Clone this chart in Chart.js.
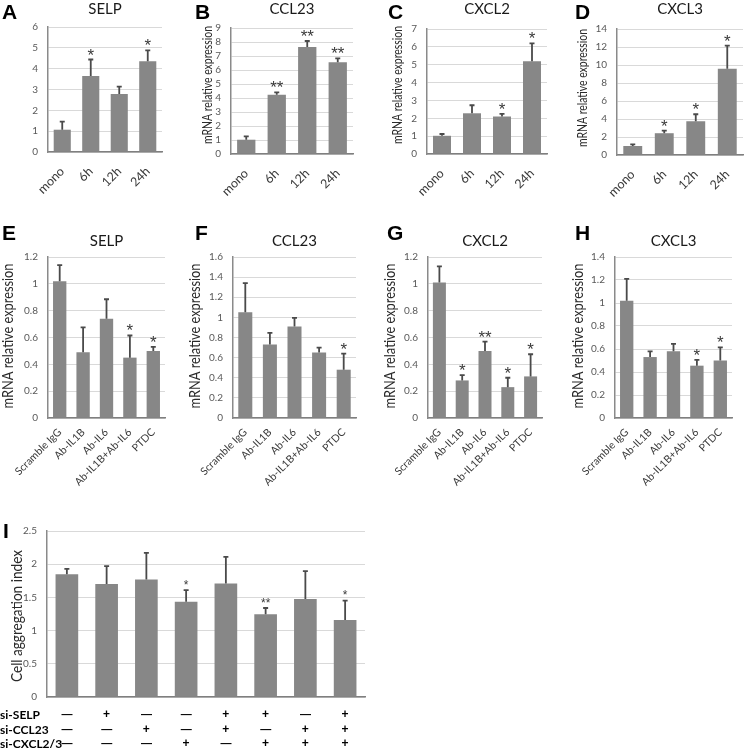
<!DOCTYPE html>
<html><head><meta charset="utf-8">
<script src="https://cdn.jsdelivr.net/npm/chart.js@4.4.0/dist/chart.umd.min.js"></script>
<style>
html,body{margin:0;padding:0;background:#fff;}
#wrap{position:relative;width:750px;height:751px;overflow:hidden;background:#fff;}
canvas{position:absolute;}
.lt{position:absolute;font-family:'Liberation Sans',Arial,sans-serif;font-weight:bold;font-size:21px;line-height:21px;color:#000;}
</style></head><body>
<div id="wrap">
<canvas id="cA" width="172" height="205" style="left:0px;top:0px"></canvas>
<canvas id="cB" width="163" height="205" style="left:199px;top:0px"></canvas>
<canvas id="cC" width="168" height="205" style="left:389px;top:0px"></canvas>
<canvas id="cD" width="176" height="205" style="left:574px;top:0px"></canvas>
<canvas id="cE" width="175" height="285" style="left:0px;top:215px"></canvas>
<canvas id="cF" width="179" height="285" style="left:187px;top:215px"></canvas>
<canvas id="cG" width="170" height="285" style="left:382px;top:215px"></canvas>
<canvas id="cH" width="172" height="285" style="left:570px;top:215px"></canvas>
<canvas id="cI" width="375" height="236" style="left:0px;top:515px"></canvas>
<div class="lt" style="left:2px;top:1px">A</div>
<div class="lt" style="left:195px;top:1px">B</div>
<div class="lt" style="left:388px;top:1px">C</div>
<div class="lt" style="left:575px;top:1px">D</div>
<div class="lt" style="left:2px;top:222px">E</div>
<div class="lt" style="left:195px;top:222px">F</div>
<div class="lt" style="left:387px;top:222px">G</div>
<div class="lt" style="left:575px;top:222px">H</div>
<div class="lt" style="left:3px;top:520px">I</div>
</div>
<script>
// ---------- data ----------
const timeLabels = ['mono', '6h', '12h', '24h'];
const antibodyLabels = ['Scramble IgG', 'Ab-IL1B', 'Ab-IL6', 'Ab-IL1B+Ab-IL6', 'PTDC'];
const siLabels = ['ctrl', 'SELP', 'CCL23', 'CXCL2/3', 'SELP+CCL23', 'SELP+CXCL2/3', 'CCL23+CXCL2/3', 'all'];

// y-axis tick values per panel
const ticksA = [0, 1, 2, 3, 4, 5, 6];
const ticksB = [0, 1, 2, 3, 4, 5, 6, 7, 8, 9];
const ticksC = [0, 1, 2, 3, 4, 5, 6, 7];
const ticksD = [0, 2, 4, 6, 8, 10, 12, 14];
const ticksE = [0, 0.2, 0.4, 0.6, 0.8, 1, 1.2];
const ticksF = [0, 0.2, 0.4, 0.6, 0.8, 1, 1.2, 1.4, 1.6];
const ticksG = [0, 0.2, 0.4, 0.6, 0.8, 1, 1.2];
const ticksH = [0, 0.2, 0.4, 0.6, 0.8, 1, 1.2, 1.4];
const ticksI = [0, 0.5, 1, 1.5, 2, 2.5];

const selpTime = [1.07, 3.65, 2.79, 4.36];
const selpTimeErr = [0.39, 0.79, 0.35, 0.52];
const selpTimeSig = ['', '*', '', '*'];

const ccl23Time = [1.02, 4.24, 7.64, 6.55];
const ccl23TimeErr = [0.24, 0.16, 0.43, 0.28];
const ccl23TimeSig = ['', '**', '**', '**'];

const cxcl2Time = [1.02, 2.28, 2.10, 5.20];
const cxcl2TimeErr = [0.10, 0.45, 0.15, 1.00];
const cxcl2TimeSig = ['', '', '*', '*'];

const cxcl3Time = [1.00, 2.42, 3.75, 9.59];
const cxcl3TimeErr = [0.19, 0.29, 0.78, 2.57];
const cxcl3TimeSig = ['', '*', '*', '*'];

const selpAb = [1.02, 0.49, 0.74, 0.45, 0.50];
const selpAbErr = [0.12, 0.185, 0.145, 0.165, 0.03];
const selpAbSig = ['', '', '', '*', '*'];

const ccl23Ab = [1.05, 0.73, 0.91, 0.65, 0.48];
const ccl23AbErr = [0.29, 0.115, 0.085, 0.05, 0.16];
const ccl23AbSig = ['', '', '', '', '*'];

const cxcl2Ab = [1.01, 0.28, 0.50, 0.23, 0.31];
const cxcl2AbErr = [0.12, 0.04, 0.07, 0.07, 0.165];
const cxcl2AbSig = ['', '*', '**', '*', '*'];

const cxcl3Ab = [1.02, 0.53, 0.58, 0.455, 0.50];
const cxcl3AbErr = [0.19, 0.05, 0.065, 0.05, 0.115];
const cxcl3AbSig = ['', '', '', '*', '*'];

const aggIndex = [1.85, 1.70, 1.77, 1.435, 1.71, 1.245, 1.476, 1.16];
const aggIndexErr = [0.08, 0.27, 0.40, 0.175, 0.40, 0.095, 0.42, 0.29];
const aggIndexSig = ['', '', '', '*', '', '**', '', '*'];

const siSELP   = ['—', '+', '—', '—', '+', '+', '—', '+'];
const siCCL23  = ['—', '—', '+', '—', '+', '—', '+', '+'];
const siCXCL23 = ['—', '—', '—', '+', '—', '+', '+', '+'];
const siRowNames = ['si-SELP', 'si-CCL23', 'si-CXCL2/3'];
const siRows = [siSELP, siCCL23, siCXCL23];

// ---------- drawing ----------
const FONT = 'Lato, "Open Sans", sans-serif';
const STARFONT = '"Liberation Sans", Arial, sans-serif';

function fmt(v) { return String(Math.round(v * 100) / 100); }

const panelPlugin = {
  id: 'panel',
  afterDatasetsDraw(chart, args, o) {
    const ctx = chart.ctx;
    const ys = chart.scales.y;
    const meta = chart.getDatasetMeta(0);
    const vals = chart.data.datasets[0].data;
    const ca = chart.chartArea;
    ctx.save();
    // y tick labels from the tick array, placed by the y scale
    ctx.fillStyle = '#595959';
    ctx.font = '10px ' + FONT;
    ctx.textAlign = 'right';
    ctx.textBaseline = 'middle';
    o.yTicks.forEach(v => ctx.fillText(fmt(v), ca.left - 10, ys.getPixelForValue(v)));
    // error bars and significance marks
    meta.data.forEach((bar, i) => {
      const top = ys.getPixelForValue(vals[i] + o.errors[i]);
      ctx.strokeStyle = '#4a4a4a';
      ctx.lineWidth = 1.8;
      ctx.beginPath();
      ctx.moveTo(bar.x, bar.y);
      ctx.lineTo(bar.x, top);
      ctx.moveTo(bar.x - 2.5, top);
      ctx.lineTo(bar.x + 2.5, top);
      ctx.stroke();
      if (o.sig[i]) {
        ctx.fillStyle = '#3a3a3a';
        ctx.font = o.starFont;
        ctx.textAlign = 'center';
        ctx.textBaseline = 'alphabetic';
        ctx.fillText(o.sig[i], bar.x, top + o.starDy);
      }
    });
    if (o.title) {
      ctx.fillStyle = '#1a1a1a';
      ctx.font = '15px ' + FONT;
      ctx.textAlign = 'center';
      ctx.textBaseline = 'middle';
      ctx.fillText(o.title, (ca.left + ca.right) / 2, o.titleY);
    }
    if (o.yTitle) {
      const t = o.yTitle;
      ctx.save();
      ctx.translate(t.x, t.y);
      ctx.rotate(-Math.PI / 2);
      ctx.fillStyle = '#2a2a2a';
      ctx.font = t.size + 'px ' + FONT;
      ctx.textAlign = 'center';
      ctx.textBaseline = 'middle';
      ctx.fillText(t.text, 0, 0, t.maxWidth);
      ctx.restore();
    }
    if (o.table) {
      const xs = chart.scales.x;
      ctx.fillStyle = '#000';
      o.table.rows.forEach((row, r) => {
        const y = o.table.ys[r];
        ctx.font = 'bold 12px ' + FONT;
        ctx.textAlign = 'left';
        ctx.textBaseline = 'middle';
        ctx.fillText(o.table.names[r], 0, y);
        row.forEach((s, i) => {
          ctx.textAlign = 'center';
          ctx.font = (s === '+' ? 'bold 12px ' : 'bold 11px ') + STARFONT;
          ctx.fillText(s, xs.getPixelForValue(i), y);
        });
      });
    }
    ctx.restore();
  }
};

function makeChart(id, c) {
  return new Chart(document.getElementById(id), {
    type: 'bar',
    data: {
      labels: c.labels,
      datasets: [{ data: c.values, backgroundColor: '#878787', borderWidth: 0,
        barPercentage: c.barPct, categoryPercentage: 1 }]
    },
    options: {
      responsive: false, animation: false, devicePixelRatio: 1,
      layout: { padding: { top: c.padTop, right: c.padRight, left: 0, bottom: 0 } },
      plugins: {
        legend: { display: false }, tooltip: { enabled: false },
        panel: { errors: c.errors, sig: c.sig, title: c.title, titleY: c.titleY, yTicks: c.ticks,
          starFont: c.starFont || '17px ' + STARFONT, starDy: c.starDy == null ? 1 : c.starDy,
          table: c.table, yTitle: c.yTitle }
      },
      scales: {
        x: {
          grid: { display: false, drawTicks: false },
          border: { display: true, color: '#7f7f7f', width: 1.5 },
          ticks: { display: c.showX !== false, autoSkip: false, maxRotation: 45, minRotation: 45,
            padding: c.xPad, color: '#3a3a3a', font: { family: FONT, size: c.xFont } },
          afterFit: s => { s.height = c.xH; }
        },
        y: {
          min: 0, max: c.ticks[c.ticks.length - 1],
          grid: { color: '#d9d9d9', lineWidth: 1, drawTicks: false },
          border: { display: true, color: '#8a8a8a', width: 1.5 },
          ticks: { display: false, autoSkip: false },
          afterBuildTicks: s => { s.ticks = c.ticks.map(v => ({ value: v })); },
          afterFit: s => { s.width = c.yW; }
        }
      }
    },
    plugins: [panelPlugin]
  });
}

const YT = 'mRNA relative expression';
const topYT = y => ({ text: YT, x: 8.4, y: y, size: 14, maxWidth: 118 });
const midYT = { text: YT, x: 8.4, y: 121, size: 15.5, maxWidth: 145 };
const rowTop = { barPct: 0.6, xFont: 12.5, xPad: 12, titleY: 9 };

makeChart('cA', Object.assign({}, rowTop, { labels: timeLabels, values: selpTime, errors: selpTimeErr, sig: selpTimeSig,
  title: 'SELP', ticks: ticksA, padTop: 27, padRight: 10, yW: 48, xH: 53 }));
makeChart('cB', Object.assign({}, rowTop, { labels: timeLabels, values: ccl23Time, errors: ccl23TimeErr, sig: ccl23TimeSig,
  title: 'CCL23', ticks: ticksB, padTop: 28, padRight: 9, yW: 32, xH: 51, yTitle: topYT(85) }));
makeChart('cC', Object.assign({}, rowTop, { labels: timeLabels, values: cxcl2Time, errors: cxcl2TimeErr, sig: cxcl2TimeSig,
  title: 'CXCL2', ticks: ticksC, padTop: 29, padRight: 10, yW: 38, xH: 51, yTitle: topYT(85) }));
makeChart('cD', Object.assign({}, rowTop, { labels: timeLabels, values: cxcl3Time, errors: cxcl3TimeErr, sig: cxcl3TimeSig,
  title: 'CXCL3', ticks: ticksD, padTop: 29, padRight: 1, yW: 43, xH: 50, yTitle: topYT(88) }));

const rowMid = { padTop: 42, xH: 82, barPct: 0.57, xFont: 10.5, xPad: 8, titleY: 26, padRight: 10, yTitle: midYT };
makeChart('cE', Object.assign({}, rowMid, { labels: antibodyLabels, values: selpAb, errors: selpAbErr, sig: selpAbSig,
  title: 'SELP', ticks: ticksE, yW: 48 }));
makeChart('cF', Object.assign({}, rowMid, { labels: antibodyLabels, values: ccl23Ab, errors: ccl23AbErr, sig: ccl23AbSig,
  title: 'CCL23', ticks: ticksF, yW: 46 }));
makeChart('cG', Object.assign({}, rowMid, { labels: antibodyLabels, values: cxcl2Ab, errors: cxcl2AbErr, sig: cxcl2AbSig,
  title: 'CXCL2', ticks: ticksG, yW: 46 }));
makeChart('cH', Object.assign({}, rowMid, { labels: antibodyLabels, values: cxcl3Ab, errors: cxcl3AbErr, sig: cxcl3AbSig,
  title: 'CXCL3', ticks: ticksH, yW: 45 }));

makeChart('cI', { labels: siLabels, values: aggIndex, errors: aggIndexErr, sig: aggIndexSig,
  ticks: ticksI, padTop: 16, padRight: 10, yW: 47, xH: 54, barPct: 0.57, showX: false, xFont: 10, xPad: 0,
  yTitle: { text: 'Cell aggregation index', x: 17, y: 101, size: 16, maxWidth: 132 },
  starFont: '12px ' + STARFONT, starDy: -1.5,
  table: { rows: siRows, names: siRowNames, ys: [200, 215, 229] } });
</script>
</body></html>
